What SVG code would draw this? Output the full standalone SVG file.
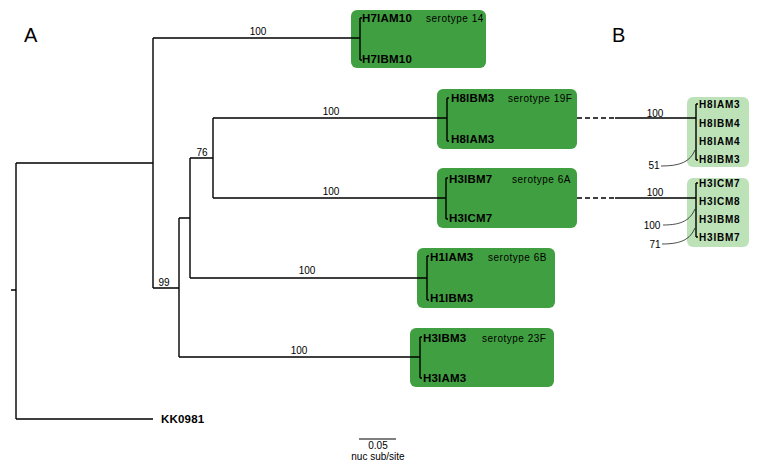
<svg xmlns="http://www.w3.org/2000/svg" width="761" height="470" viewBox="0 0 761 470">
<style>
.box{fill:#409f40}
.lbox{fill:#bde2b8}
.ln{stroke:#000;stroke-width:1.4;fill:none}
.thin{stroke:#000;stroke-width:0.7;fill:none}
.leaf{font-family:"Liberation Sans",Arial,sans-serif;font-size:11.5px;font-weight:bold;fill:#000;letter-spacing:0.2px}
.sleaf{font-family:"Liberation Sans",Arial,sans-serif;font-size:10px;font-weight:bold;fill:#000;letter-spacing:0.8px}
.sero{font-family:"Liberation Sans",Arial,sans-serif;font-size:10px;fill:#000;letter-spacing:0.5px}
.bs{font-family:"Liberation Sans",Arial,sans-serif;font-size:10px;fill:#000}
.big{font-family:"Liberation Sans",Arial,sans-serif;font-size:20px;fill:#000}
</style>
<rect width="761" height="470" fill="#fff"/>
<text class="big" x="24" y="42">A</text>
<text class="big" x="612" y="42">B</text>

<g id="H7">
<rect class="box" x="351" y="10" width="135" height="58" rx="6"/>
<path class="ln" d="M360 18V60M360 18h2M360 60h2"/>
<text class="leaf" x="362" y="22">H7IAM10</text>
<text class="leaf" x="362" y="63">H7IBM10</text>
<text class="sero" x="426" y="22">serotype 14</text>
</g>
<g id="H8">
<rect class="box" x="437" y="89" width="140" height="60" rx="6"/>
<path class="ln" d="M447 98V141M447 98h2M447 141h2"/>
<text class="leaf" x="451" y="102">H8IBM3</text>
<text class="leaf" x="451" y="143">H8IAM3</text>
<text class="sero" x="508" y="102">serotype 19F</text>
</g>
<g id="H3_6A">
<rect class="box" x="437" y="168" width="140" height="60" rx="6"/>
<path class="ln" d="M446 178V219M446 178h2M446 219h2"/>
<text class="leaf" x="449" y="183">H3IBM7</text>
<text class="leaf" x="449" y="222">H3ICM7</text>
<text class="sero" x="512" y="183">serotype 6A</text>
</g>
<g id="H1">
<rect class="box" x="417" y="248" width="138" height="60" rx="6"/>
<path class="ln" d="M427 256V300M427 256h2M427 300h2"/>
<text class="leaf" x="430" y="261">H1IAM3</text>
<text class="leaf" x="430" y="302">H1IBM3</text>
<text class="sero" x="488" y="261">serotype 6B</text>
</g>
<g id="H3_23F">
<rect class="box" x="410" y="328" width="144" height="59" rx="6"/>
<path class="ln" d="M420 337V378M420 337h2M420 378h2"/>
<text class="leaf" x="423" y="342">H3IBM3</text>
<text class="leaf" x="423" y="382">H3IAM3</text>
<text class="sero" x="482" y="342">serotype 23F</text>
</g>
<g id="KK0981">
<text class="leaf" x="161" y="423">KK0981</text>
</g>

<g id="B1">
<rect class="lbox" x="687" y="97" width="62" height="70" rx="6"/>
<path class="ln" d="M696 104V160M696 104h2M696 160h2"/>
<text class="sleaf" x="699" y="108">H8IAM3</text>
<text class="sleaf" x="699" y="127">H8IBM4</text>
<text class="sleaf" x="699" y="145">H8IAM4</text>
<text class="sleaf" x="699" y="163">H8IBM3</text>
</g>
<g id="B2">
<rect class="lbox" x="687" y="178" width="62" height="69" rx="6"/>
<path class="ln" d="M696 183V237M696 183h2M696 237h2"/>
<text class="sleaf" x="699" y="187">H3ICM7</text>
<text class="sleaf" x="699" y="205">H3ICM8</text>
<text class="sleaf" x="699" y="223">H3IBM8</text>
<text class="sleaf" x="699" y="241">H3IBM7</text>
</g>

<g id="connectors">
<path class="ln" d="M11 290H16M16 163V419M16 163H153M16 419H153"/>
<path class="ln" d="M153 38V288M153 38H360M153 288H179"/>
<path class="ln" d="M179 218V357M179 357H420M179 218H190"/>
<path class="ln" d="M190 158V278M190 278H427M190 158H213"/>
<path class="ln" d="M213 118V198M213 118H447M213 198H446"/>
<path class="ln" stroke-dasharray="5,3" d="M577 118H615M577 198H615"/>
<path class="ln" d="M615 118H696M615 198H696"/>
<path class="thin" d="M661 166C680 166 690 162 695 150"/>
<path class="thin" d="M663 225C682 225 690 220 695 209"/>
<path class="thin" d="M662 244C682 244 690 239 695 228"/>
<path class="ln" style="stroke-width:1.2" d="M359 439H396"/>
</g>

<g id="labels">
<text class="bs" x="258" y="35" text-anchor="middle">100</text>
<text class="bs" x="331" y="115" text-anchor="middle">100</text>
<text class="bs" x="331" y="195" text-anchor="middle">100</text>
<text class="bs" x="307" y="274" text-anchor="middle">100</text>
<text class="bs" x="299" y="354" text-anchor="middle">100</text>
<text class="bs" x="202" y="156" text-anchor="middle">76</text>
<text class="bs" x="164" y="286" text-anchor="middle">99</text>
<text class="bs" x="655" y="117" text-anchor="middle">100</text>
<text class="bs" x="655" y="196" text-anchor="middle">100</text>
<text class="bs" x="654" y="169" text-anchor="middle">51</text>
<text class="bs" x="652" y="229" text-anchor="middle">100</text>
<text class="bs" x="655" y="248" text-anchor="middle">71</text>
<text class="bs" x="378" y="449" text-anchor="middle">0.05</text>
<text class="bs" x="378" y="460" text-anchor="middle">nuc sub/site</text>
</g>
</svg>
